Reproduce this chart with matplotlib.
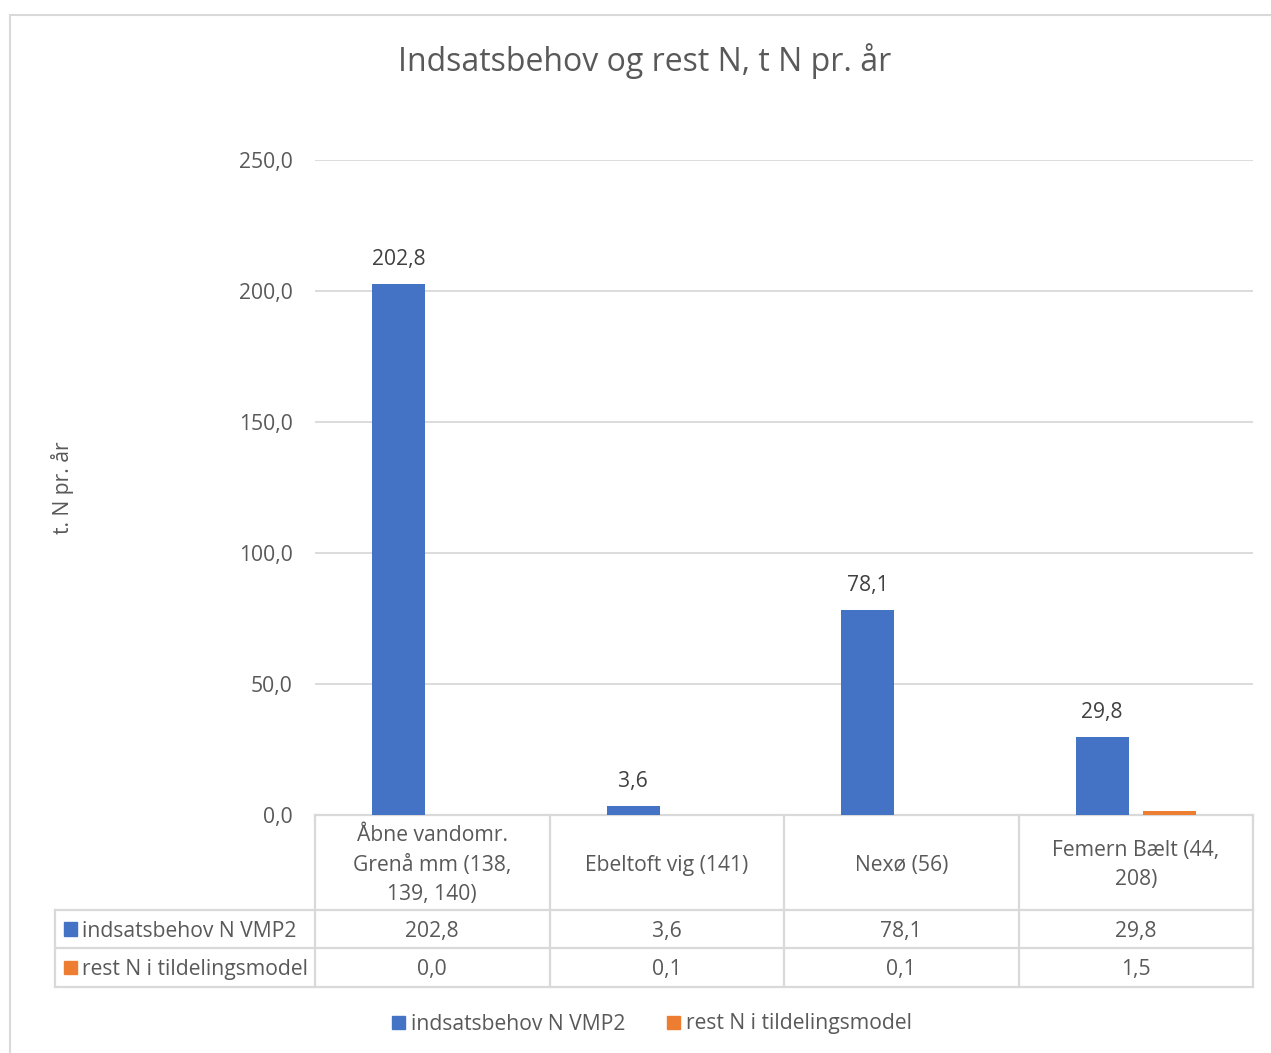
import numpy as np
import matplotlib.pyplot as plt
from matplotlib.patches import Rectangle
from matplotlib.transforms import blended_transform_factory

categories = ["Åbne vandomr.\nGrenå mm (138,\n139, 140)", "Ebeltoft vig (141)",
              "Nexø (56)", "Femern Bælt (44,\n208)"]
series_names = ["indsatsbehov N VMP2", "rest N i tildelingsmodel"]
indsats = [202.8, 3.6, 78.1, 29.8]
rest = [0.0, 0.1, 0.1, 1.5]
yticks = [0, 50, 100, 150, 200, 250]

blue = "#4472C4"
orange = "#ED7D31"
txt = "#595959"
grid = "#D9D9D9"
fs = 15.2

plt.rcParams['font.family'] = ['Open Sans', 'DejaVu Sans']


def fmt(v):
    return f"{v:.1f}".replace(".", ",")


fig = plt.figure(figsize=(12.71, 10.53), dpi=100)
W, H = 1271, 1053
ax = fig.add_axes([315 / W, (H - 815) / H, (1253 - 315) / W, (815 - 160) / H])

# chart border
fig.add_artist(Rectangle((10 / W, -0.01), 1.1, (H - 15) / H + 0.01, transform=fig.transFigure,
                         fill=False, edgecolor=grid, lw=1.5))

x = np.arange(len(categories))
bw = 0.226
ax.bar(x - 0.143, indsats, bw, color=blue, zorder=3)
ax.bar(x + 0.143, rest, bw, color=orange, zorder=3)
for xi, v in zip(x, indsats):
    ax.annotate(fmt(v), (xi - 0.143, v), xytext=(0, 10), textcoords="offset points",
                ha="center", va="bottom", fontsize=fs, color="#404040")

ax.set_xlim(-0.5, len(categories) - 0.5)
ax.set_ylim(0, 250)
ax.set_yticks(yticks)
ax.set_yticklabels([fmt(t) for t in yticks], fontsize=fs, color=txt)
ax.tick_params(axis="y", length=0, pad=16)
ax.set_xticks([])
ax.yaxis.grid(True, color=grid, lw=1.3, zorder=0)
for s in ax.spines.values():
    s.set_visible(False)

fig.text(62 / W, 1 - 488 / H, "t. N pr. år", rotation=90, ha="center", va="center",
         fontsize=fs, color=txt)
fig.text(645 / W, 1 - 61 / H, "Indsatsbehov og rest N, t N pr. år", ha="center",
         va="center", fontsize=23, color=txt)

# data table below the axis
tr = blended_transform_factory(ax.transData, ax.transAxes)
ph = 815 - 160
y_head = -(910 - 815) / ph
y_r1 = -(948 - 815) / ph
y_r2 = -(987 - 815) / ph
nudge = -2.5 / ph
xl = -0.5 - (315 - 55) / ((1253 - 315) / 4)
xr = len(categories) - 0.5
lk = dict(color=grid, lw=1.6, transform=tr, clip_on=False)
ax.plot([-0.5, xr], [0, 0], **lk)
for yy in (y_head, y_r1, y_r2):
    ax.plot([xl, xr], [yy, yy], **lk)
for xv in np.arange(-0.5, xr + 0.01, 1):
    ax.plot([xv, xv], [0, y_r2], **lk)
ax.plot([xl, xl], [y_head, y_r2], **lk)

for xi, c in zip(x, categories):
    ax.text(xi, y_head / 2 + nudge, c, transform=tr, ha="center", va="center", fontsize=fs,
            color=txt, linespacing=1.55)
rows = [indsats, rest]
ycs = [(y_head + y_r1) / 2, (y_r1 + y_r2) / 2]
for vals, yc, name, col in zip(rows, ycs, series_names, [blue, orange]):
    for xi, v in zip(x, vals):
        ax.text(xi, yc + nudge, fmt(v), transform=tr, ha="center", va="center", fontsize=fs,
                color=txt)
    ax.add_patch(Rectangle((xl + 0.04, yc - 0.01), 0.055, 0.02, transform=tr,
                           color=col, clip_on=False))
    ax.text(xl + 0.115, yc + nudge, name, transform=tr, ha="left", va="center", fontsize=fs,
            color=txt)

# legend
lx = [392, 667]
for px, name, col in zip(lx, series_names, [blue, orange]):
    fig.add_artist(Rectangle((px / W, 1 - 1029 / H), 13 / W, 13 / H, transform=fig.transFigure,
                             color=col))
    fig.text((px + 19) / W, 1 - 1024 / H, name, ha="left", va="center", fontsize=fs, color=txt)

fig.savefig("out.png", dpi=100)
